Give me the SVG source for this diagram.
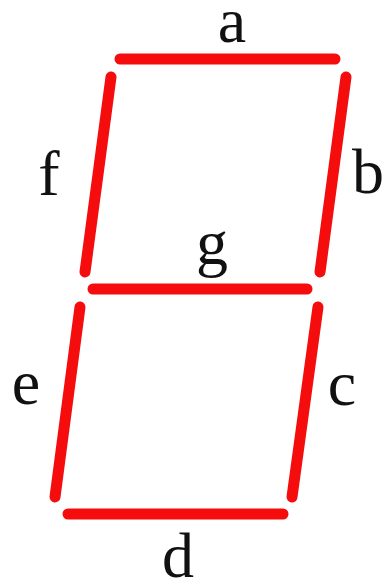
<svg xmlns="http://www.w3.org/2000/svg" width="384" height="582" viewBox="0 0 384 582">
<style>
.seg{stroke:#f50d0d;stroke-width:11;stroke-linecap:round;fill:none}
.lbl{font-family:"Liberation Serif","Times New Roman",serif;font-size:64px;fill:#111;text-anchor:middle}
</style>
<rect width="384" height="582" fill="#fff"/>
<g id="seg-a"><line class="seg" x1="120" y1="59" x2="335" y2="59"/><text class="lbl" x="232" y="42">a</text></g>
<g id="seg-b"><line class="seg" x1="346" y1="77" x2="320" y2="272"/><text class="lbl" x="368" y="193">b</text></g>
<g id="seg-c"><line class="seg" x1="318" y1="307" x2="292" y2="497"/><text class="lbl" x="342" y="405">c</text></g>
<g id="seg-d"><line class="seg" x1="68" y1="514" x2="283" y2="514"/><text class="lbl" x="178" y="577">d</text></g>
<g id="seg-e"><line class="seg" x1="80" y1="307" x2="55" y2="497"/><text class="lbl" x="26" y="404">e</text></g>
<g id="seg-f"><line class="seg" x1="111" y1="77" x2="85" y2="272"/><text class="lbl" x="49" y="195">f</text></g>
<g id="seg-g"><line class="seg" x1="93" y1="289" x2="307" y2="289"/><text class="lbl" x="212" y="264">g</text></g>
</svg>
